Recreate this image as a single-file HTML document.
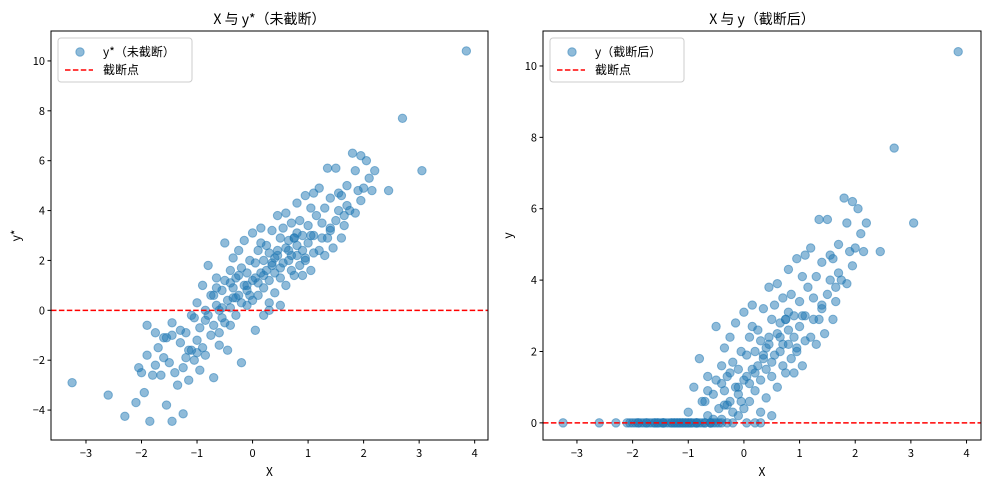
<!DOCTYPE html>
<html><head><meta charset="utf-8">
<style>
body{margin:0;background:#fff;}
svg text{font-family:"WenQuanYi Zen Hei","Noto Sans CJK SC",sans-serif;fill:#000;}
</style></head>
<body>
<svg id="chart" width="989" height="489" xmlns="http://www.w3.org/2000/svg"></svg>
<script>
// data: [x, y*] samples
const samples = [
[-3.25,-2.9],[-2.6,-3.4],[-2.3,-4.25],[-2.1,-3.7],[-2.0,-2.5],[-1.95,-3.3],[-1.9,-1.8],[-1.85,-4.45],[-1.8,-2.6],[-1.75,-2.2],
[-1.7,-1.5],[-1.65,-2.6],[-1.6,-1.9],[-1.55,-3.8],[-1.5,-2.1],[-1.45,-4.45],[-1.45,-0.5],[-1.4,-2.5],[-1.35,-3.0],[-1.3,-1.3],
[-1.25,-4.15],[-1.25,-2.3],[-1.2,-0.9],[-1.15,-2.8],[-1.1,-1.6],[-1.1,-0.2],[-1.05,-2.0],[-1.0,-1.2],[-1.0,0.3],[-0.95,-0.7],
[-0.95,-2.4],[-0.9,-1.5],[-0.9,1.0],[-0.85,-0.4],[-0.85,-1.8],[-0.8,-0.2],[-0.8,1.8],[-0.75,-1.0],[-0.75,0.6],[-0.7,-2.7],
[-0.7,-0.6],[-0.65,0.2],[-0.65,1.3],[-0.6,-1.4],[-0.6,0.0],[-0.55,0.8],[-0.55,-0.3],[-0.5,1.2],[-0.5,-0.5],[-0.5,2.7],
[-0.45,0.4],[-0.45,-1.6],[-0.4,1.6],[-0.4,0.1],[-0.4,-0.6],[-0.35,0.9],[-0.35,2.1],[-0.3,-0.2],[-0.3,1.3],[-0.3,0.5],
[-0.25,0.6],[-0.25,2.4],[-0.2,1.7],[-0.2,-2.1],[-0.2,0.3],[-0.15,1.0],[-0.15,2.8],[-0.1,0.2],[-0.1,1.5],[-0.1,0.8],
[-0.05,2.0],[-0.05,0.6],[0.0,3.1],[0.0,1.2],[0.0,0.4],[0.05,1.9],[0.05,-0.8],[0.1,1.1],[0.1,2.4],[0.1,0.6],
[0.15,1.5],[0.15,3.3],[0.2,0.9],[0.2,2.0],[0.2,-0.2],[0.25,1.6],[0.25,2.6],[0.3,0.3],[0.3,1.2],[0.3,2.3],
[0.35,3.2],[0.35,1.8],[0.4,0.7],[0.4,2.1],[0.4,1.5],[0.45,3.8],[0.45,2.4],[0.5,1.3],[0.5,2.9],[0.5,0.2],
[0.55,1.9],[0.55,3.3],[0.6,2.5],[0.6,1.0],[0.6,3.9],[0.65,2.0],[0.65,2.8],[0.7,1.6],[0.7,3.5],[0.7,2.2],
[0.75,2.9],[0.75,1.4],[0.8,4.3],[0.8,2.6],[0.8,3.1],[0.85,1.8],[0.85,3.6],[0.9,2.4],[0.9,3.0],[0.95,4.6],
[0.95,2.0],[1.0,3.4],[1.0,2.7],[1.05,4.1],[1.05,1.6],[1.1,4.7],[1.1,3.0],[1.15,3.8],[1.2,2.4],[1.2,4.9],
[1.25,3.5],[1.3,2.2],[1.3,4.1],[1.35,5.7],[1.4,3.2],[1.4,4.5],[1.45,2.5],[1.5,5.7],[1.5,3.6],[1.55,4.7],
[1.6,2.9],[1.6,4.6],[1.65,3.4],[1.7,5.0],[1.75,4.0],[1.8,6.3],[1.85,5.6],[1.9,4.8],[1.95,6.2],[2.0,4.9],
[2.05,6.0],[2.1,5.3],[2.15,4.8],[2.2,5.6],[2.45,4.8],[2.7,7.7],[3.05,5.6],[3.85,10.4],[-1.9,-0.6],[-1.6,-1.1],
[-1.3,-0.8],[-1.0,-1.7],[-0.7,0.6],[-0.4,1.1],[-0.1,1.0],[0.2,1.4],[0.5,1.7],[0.8,2.2],[1.1,2.3],[1.4,3.3],
[1.7,4.2],[-1.55,-1.1],[-1.15,-1.6],[-0.85,0.0],[-0.55,0.1],[-0.25,1.4],[0.05,1.3],[0.35,1.9],[0.65,2.4],[0.95,2.1],
[1.25,2.9],[1.55,4.0],[1.85,3.9],[-2.05,-2.3],[-1.75,-0.9],[-1.45,-1.0],[-1.05,-0.3],[-0.65,0.9],[-0.35,0.5],[0.15,2.7],
[0.45,2.2],[0.75,2.9],[1.05,3.0],[1.35,2.9],[1.65,3.8],[1.95,4.4],[-0.6,-0.9],[0.3,0.0],[-1.2,-1.9],[0.9,1.4]
];
// truncation point
const cutVal = 0;
const titles = ["X 与 y*（未截断）","X 与 y（截断后）"];
const legendLabels = [["y*（未截断）","截断点"],["y（截断后）","截断点"]];
const yTicksL = [-4,-2,0,2,4,6,8,10];
const yTicksR = [0,2,4,6,8,10];
const xTicks = [-3,-2,-1,0,1,2,3,4];

const NS="http://www.w3.org/2000/svg";
const svg=document.getElementById('chart');
function mk(tag,attrs,parent){const e=document.createElementNS(NS,tag);for(const k in attrs)e.setAttribute(k,attrs[k]);(parent||svg).appendChild(e);return e;}

const panels=[
 {L:51,R:488,T:31,B:440,xmin:-3.63,xmax:4.24,ymin:-5.2,ymax:11.2,yt:yTicksL,ylab:"y*",trunc:false},
 {L:543,R:981,T:31,B:440,xmin:-3.61,xmax:4.26,ymin:-0.48,ymax:10.98,yt:yTicksR,ylab:"y",trunc:true}
];
panels.forEach((p,pi)=>{
 const sx=v=>p.L+(v-p.xmin)/(p.xmax-p.xmin)*(p.R-p.L);
 const sy=v=>p.B-(v-p.ymin)/(p.ymax-p.ymin)*(p.B-p.T);
 const g=mk('g',{});
 
 
 const pts=mk('g',{},g);
 
 
 samples.forEach(s=>{
  let y=s[1]; if(p.trunc) y=Math.max(cutVal,y);
  const c=mk('circle',{cx:sx(s[0]),cy:sy(y),r:4.2,fill:'#1f77b4','fill-opacity':0.5,stroke:'#1f77b4','stroke-opacity':0.5,'stroke-width':1},pts);
  
  
 });
 const cl=mk('line',{x1:p.L,x2:p.R,y1:sy(cutVal),y2:sy(cutVal),stroke:'red','stroke-width':1.5,'stroke-dasharray':'5.5,2.4'},g);
 
 
 const fr=mk('rect',{x:p.L,y:p.T,width:p.R-p.L,height:p.B-p.T,fill:'none',stroke:'#000','stroke-width':1},g);
 
 
 xTicks.forEach(t=>{
  const X=sx(t);
  mk('line',{x1:X,x2:X,y1:p.B,y2:p.B+3.5,stroke:'#000'},g);
  const tx=mk('text',{x:X,y:p.B+17,'text-anchor':'middle','font-size':11},g);
  tx.textContent=t<0?'−'+(-t):t;
  
  
 });
 p.yt.forEach(t=>{
  const Y=sy(t);
  mk('line',{x1:p.L-3.5,x2:p.L,y1:Y,y2:Y,stroke:'#000'},g);
  const tx=mk('text',{x:p.L-6,y:Y+4,'text-anchor':'end','font-size':11},g);
  tx.textContent=t<0?'−'+(-t):t;
  
  
 });
 const xl=mk('text',{x:(p.L+p.R)/2,y:476,'text-anchor':'middle','font-size':12},g);
 xl.textContent='X';
 
 
 const yl=mk('text',{x:0,y:0,'text-anchor':'middle','font-size':12,transform:`translate(${p.L-31},${(p.T+p.B)/2}) rotate(-90)`},g);
 yl.textContent=p.ylab;
 
 
 const ti=mk('text',{x:(p.L+p.R)/2,y:24,'text-anchor':'middle','font-size':14},g);
 ti.textContent=titles[pi];
 
 
 const lg=mk('g',{},g);
 
 
 mk('rect',{x:p.L+7,y:p.T+7,width:134,height:44,rx:3,fill:'#fff','fill-opacity':0.8,stroke:'#ccc'},lg);
 mk('circle',{cx:p.L+29,cy:p.T+21,r:4.2,fill:'#1f77b4','fill-opacity':0.5,stroke:'#1f77b4','stroke-opacity':0.5},lg);
 mk('line',{x1:p.L+14,x2:p.L+42,y1:p.T+39,y2:p.T+39,stroke:'red','stroke-width':1.5,'stroke-dasharray':'5.5,2.4'},lg);
 legendLabels[pi].forEach((s,k)=>{
  const t=mk('text',{x:p.L+52,y:p.T+25+k*18,'font-size':12},lg);
  t.textContent=s;
  
  
 });
});
</script>
</body></html>
